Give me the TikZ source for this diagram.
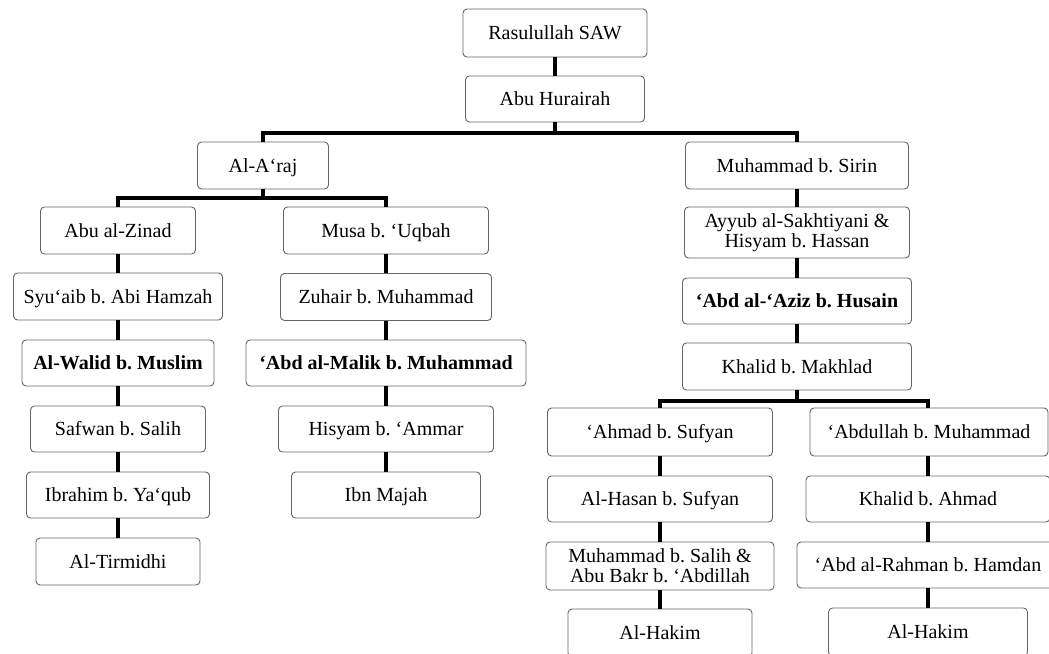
\documentclass[tikz,border=0pt]{standalone}
\usepackage{fontspec}
\setmainfont{Liberation Serif}
\begin{document}
\frenchspacing
\begin{tikzpicture}[x=1pt,y=-1pt,
  box/.style={draw=black!60, line width=0.9pt, rounded corners=4pt, fill=white,
    inner sep=0pt, minimum height=47pt, font=\fontsize{20}{21}\selectfont,
    text height=13.2pt, text depth=0pt},
  twobox/.style={draw=black!60, line width=0.9pt, rounded corners=4pt, fill=white,
    inner sep=0pt, minimum height=51pt, align=center,
    font=\fontsize{20}{20}\selectfont},
  conn/.style={line width=4.5pt, line join=miter, line cap=butt}]
\useasboundingbox (0,0) rectangle (1049,653);

% top
\node[box, minimum width=184pt, minimum height=48pt] (rasul) at (555,33) {Rasulullah SAW};
\node[box, minimum width=179pt, minimum height=46pt] (abu) at (555,99) {Abu Hurairah};
\node[box, minimum width=131pt] (araj) at (263,165.5) {Al-A‘raj};
\node[box, minimum width=223pt] (sirin) at (797,165.5) {Muhammad b. Sirin};

% left column
\node[box, minimum width=155pt] (zinad) at (118,230.5) {Abu al-Zinad};
\node[box, minimum width=209pt] (syuaib) at (118,296.5) {Syu‘aib b. Abi Hamzah};
\node[box, minimum width=192pt, minimum height=46pt] (walid) at (118,363) {\bfseries Al-Walid b. Muslim};
\node[box, minimum width=175pt, minimum height=46pt] (safwan) at (118,429) {Safwan b. Salih};
\node[box, minimum width=183pt, minimum height=46pt] (ibrahim) at (118,495) {Ibrahim b. Ya‘qub};
\node[box, minimum width=164pt] (tirmidhi) at (118,561.5) {Al-Tirmidhi};

% middle column
\node[box, minimum width=205pt] (musa) at (386,230.5) {Musa b. ‘Uqbah};
\node[box, minimum width=211pt] (zuhair) at (386,297) {Zuhair b. Muhammad};
\node[box, minimum width=280pt, minimum height=46pt] (malik) at (386,363) {\bfseries ‘Abd al-Malik b. Muhammad};
\node[box, minimum width=215pt, minimum height=46pt] (hisyam) at (386,429) {Hisyam b. ‘Ammar};
\node[box, minimum width=189pt, minimum height=46pt] (majah) at (386,495) {Ibn Majah};

% right upper column
\node[twobox, minimum width=225pt] (ayyub) at (797,232.5) {Ayyub al-Sakhtiyani \&\\Hisyam b. Hassan};
\node[box, minimum width=229pt, minimum height=46pt] (aziz) at (797,301) {\bfseries ‘Abd al-‘Aziz b. Husain};
\node[box, minimum width=229pt] (makhlad) at (797,366.5) {Khalid b. Makhlad};

% right lower left column
\node[box, minimum width=225pt, minimum height=48pt] (ahmad) at (660,432) {‘Ahmad b. Sufyan};
\node[box, minimum width=225pt, minimum height=46pt] (hasan) at (660,499) {Al-Hasan b. Sufyan};
\node[twobox, minimum width=228pt, minimum height=48pt] (salih) at (660,566) {Muhammad b. Salih \&\\Abu Bakr b. ‘Abdillah};
\node[box, minimum width=184pt, minimum height=48pt] (hakimA) at (660,633) {Al-Hakim};

% right lower right column
\node[box, minimum width=238pt, minimum height=48pt] (abdullah) at (929,432) {‘Abdullah b. Muhammad};
\node[box, minimum width=244pt, minimum height=46pt] (khalidA) at (928,499) {Khalid b. Ahmad};
\node[box, minimum width=262pt, minimum height=46pt] (rahman) at (928,565) {‘Abd al-Rahman b. Hamdan};
\node[box, minimum width=199pt, minimum height=48pt] (hakimB) at (928,632) {Al-Hakim};

% junctions
\coordinate (j1) at (555,133);
\coordinate (j2) at (263,198);
\coordinate (j3) at (797,401);

% connectors
\draw[conn] (rasul) -- (abu);
\draw[conn] (abu.south) -- (j1);
\draw[conn] (araj.north) |- (j1) -| (sirin.north);
\draw[conn] (araj.south) -- (j2);
\draw[conn] (zinad.north) |- (j2) -| (musa.north);
\draw[conn] (makhlad.south) -- (j3);
\draw[conn] (ahmad.north) |- (j3) -| (abdullah.north -| khalidA.north);

\draw[conn] (zinad) -- (syuaib);
\draw[conn] (syuaib) -- (walid);
\draw[conn] (walid) -- (safwan);
\draw[conn] (safwan) -- (ibrahim);
\draw[conn] (ibrahim) -- (tirmidhi);

\draw[conn] (musa) -- (zuhair);
\draw[conn] (zuhair) -- (malik);
\draw[conn] (malik) -- (hisyam);
\draw[conn] (hisyam) -- (majah);

\draw[conn] (sirin.south) -- (sirin.south |- ayyub.north);
\draw[conn] (ayyub) -- (aziz);
\draw[conn] (aziz) -- (makhlad);

\draw[conn] (ahmad) -- (hasan);
\draw[conn] (hasan) -- (salih);
\draw[conn] (salih) -- (hakimA);

\draw[conn] (khalidA.north) -- (khalidA.north |- abdullah.south);
\draw[conn] (khalidA) -- (rahman);
\draw[conn] (rahman) -- (hakimB);
\end{tikzpicture}
\end{document}
